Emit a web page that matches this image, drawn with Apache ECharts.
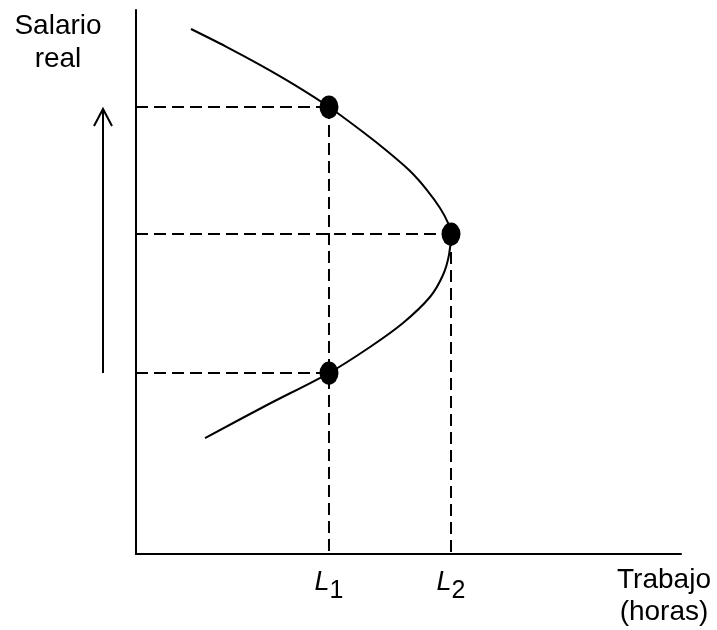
<!DOCTYPE html>
<html>
<head>
<meta charset="utf-8">
<script src="https://cdn.jsdelivr.net/npm/echarts@6/dist/echarts.min.js"></script>
<style>
html, body { margin: 0; padding: 0; background: #fff; }
#chart { width: 717px; height: 630px; }
</style>
</head>
<body>
<div id="chart"></div>
<script>
// curva de oferta de trabajo (se dobla hacia atras)
const curveX = [10.09, 16.42, 22.75, 29.08, 35.41, 41.65, 46.06, 50.28, 53.39, 55.78, 57.25, 57.80,
    57.43, 56.33, 53.94, 48.99, 42.94, 35.41, 24.04, 12.66]
const curveY = [96.51, 93.33, 89.91, 86.23, 82.17, 77.57, 74.08, 70.40, 66.91, 63.60, 60.85, 58.82,
    54.96, 51.29, 47.24, 42.46, 38.05, 33.27, 27.39, 21.32]
// puntos marcados
const pointX = [35.41, 57.80, 35.41]
const pointY = [82.17, 58.82, 33.27]
// etiquetas del eje x
const tickValues = [35.41, 57.80]
const tickLabels = ['1', '2']

const font = 'Liberation Sans, Arial, sans-serif'
let curveData = curveX.map((x, i) => [x, curveY[i]])
let points = pointX.map((x, i) => [x, pointY[i]])

let dashStyle = { color: '#000', width: 2, type: [12, 6] }
let dashSeries = []
points.forEach(p => {
    dashSeries.push({
        type: 'line', data: [[0, p[1]], p], symbol: 'none',
        lineStyle: dashStyle, silent: true, z: 1
    })
})
// verticales hasta el eje x
dashSeries.push({ type: 'line', data: [points[0], [points[0][0], 0]], symbol: 'none', lineStyle: dashStyle, silent: true, z: 1 })
dashSeries.push({ type: 'line', data: [points[1], [points[1][0], 0]], symbol: 'none', lineStyle: dashStyle, silent: true, z: 1 })

let option = {
    animation: false,
    grid: { left: 136, top: 10, width: 545, height: 544 },
    xAxis: {
        type: 'value', min: 0, max: 100,
        axisLine: { show: true, onZero: false, lineStyle: { color: '#000', width: 2 } },
        axisTick: { show: false },
        splitLine: { show: false },
        axisLabel: {
            customValues: tickValues,
            margin: 12,
            formatter: function (v) {
                let i = tickValues.indexOf(v)
                return '{L|L}{s|' + tickLabels[i] + '}'
            },
            rich: {
                L: { fontFamily: font, fontStyle: 'italic', fontSize: 27, color: '#000', lineHeight: 32 },
                s: { fontFamily: font, fontSize: 25, color: '#000', lineHeight: 32, padding: [18, 0, 0, 0] }
            }
        }
    },
    yAxis: {
        type: 'value', min: 0, max: 100,
        axisLine: { show: true, onZero: false, lineStyle: { color: '#000', width: 2 } },
        axisTick: { show: false },
        axisLabel: { show: false },
        splitLine: { show: false }
    },
    graphic: [
        { type: 'text', x: 58, y: 10, style: { text: 'Salario\nreal', font: '28px ' + font, fill: '#000', textAlign: 'center', textVerticalAlign: 'top', lineHeight: 33 } },
        { type: 'text', x: 664, y: 564, style: { text: 'Trabajo\n(horas)', font: '28px ' + font, fill: '#000', textAlign: 'center', textVerticalAlign: 'top', lineHeight: 32 } },
        { type: 'polyline', shape: { points: [[103, 373], [103, 109]] }, style: { stroke: '#000', lineWidth: 2 } },
        { type: 'polyline', shape: { points: [[94, 126], [103, 109], [112, 126]] }, style: { stroke: '#000', lineWidth: 2, fill: null } }
    ],
    series: dashSeries.concat([
        {
            type: 'line', data: curveData, smooth: 0.3, symbol: 'none',
            lineStyle: { color: '#000', width: 2 }, z: 2
        },
        {
            type: 'scatter', data: points, symbol: 'circle', symbolSize: [19, 23],
            itemStyle: { color: '#000', opacity: 1 }, z: 3
        }
    ])
}

var myChart = echarts.init(document.getElementById('chart'))
myChart.setOption(option)
</script>
</body>
</html>
